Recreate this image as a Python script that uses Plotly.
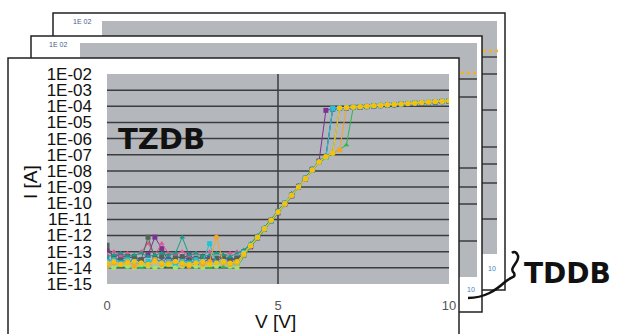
import plotly.graph_objects as go

# ---------------- data ----------------
V = [0.0, 0.2, 0.4, 0.6, 0.8, 1.0, 1.2, 1.4, 1.6, 1.8, 2.0, 2.2, 2.4, 2.6, 2.8, 3.0, 3.2, 3.4, 3.6, 3.8,
     4.0, 4.2, 4.4, 4.6, 4.8, 5.0, 5.2, 5.4, 5.6, 5.8, 6.0, 6.2, 6.4, 6.6, 6.8, 7.0, 7.2, 7.4, 7.6, 7.8,
     8.0, 8.2, 8.4, 8.6, 8.8, 9.0, 9.2, 9.4, 9.6, 9.8, 10.0]

# log10(I [A]) for each measured device
s_purple = [-12.9, -13.3, -13.2, -13.4, -13.3, -13.5, -13.2, -12.1, -12.8, -13.6, -13.3, -13.4, -13.2, -13.5, -13.3, -13.4, -13.6, -13.3, -13.5, -13.4,
            -13.2, -12.7, -12.15, -11.6, -11.1, -10.6, -10.05, -9.55, -9.0, -8.5, -7.95, -7.4, -4.25, -4.17, -4.12, -4.1, -4.07, -4.05, -4.02, -3.98,
            -3.96, -3.93, -3.9, -3.88, -3.85, -3.82, -3.8, -3.77, -3.74, -3.71, -3.68]
s_blue = [-13.5, -13.6, -13.4, -13.7, -13.5, -13.6, -13.8, -13.5, -13.6, -13.4, -13.7, -13.6, -13.5, -13.8, -13.6, -13.5, -13.7, -13.6, -13.4, -13.6,
          -13.1, -12.6, -12.1, -11.55, -11.05, -10.5, -10.0, -9.45, -8.95, -8.45, -7.9, -7.45, -7.1, -4.17, -4.13, -4.1, -4.06, -4.04, -4.01, -3.99,
          -3.95, -3.92, -3.9, -3.87, -3.84, -3.81, -3.79, -3.76, -3.73, -3.7, -3.67]
s_pink = [-13.2, -13.0, -13.3, -13.1, -13.3, -13.0, -12.5, -13.2, -12.5, -13.1, -13.2, -13.0, -13.3, -13.1, -13.2, -13.0, -13.4, -13.2, -13.1, -13.0,
          -12.95, -12.55, -12.05, -11.55, -11.0, -10.5, -10.0, -9.5, -8.95, -8.45, -7.95, -7.45, -7.15, -6.9, -4.12, -4.09, -4.07, -4.04, -4.01, -3.98,
          -3.95, -3.93, -3.9, -3.87, -3.84, -3.82, -3.79, -3.76, -3.73, -3.7, -3.67]
s_orange = [-13.9, -13.7, -13.8, -13.6, -13.9, -13.7, -13.8, -13.5, -13.8, -13.7, -13.6, -13.8, -13.9, -13.7, -13.8, -13.6, -12.1, -13.7, -13.8, -13.7,
            -13.2, -12.65, -12.1, -11.6, -11.05, -10.55, -10.05, -9.5, -9.0, -8.5, -7.95, -7.45, -7.1, -6.9, -6.7, -4.08, -4.06, -4.03, -4.0, -3.97,
            -3.95, -3.92, -3.89, -3.86, -3.83, -3.81, -3.78, -3.75, -3.72, -3.7, -3.66]
s_green = [-13.95, -14.0, -13.9, -14.0, -13.95, -14.0, -13.9, -14.0, -13.95, -13.9, -14.0, -13.95, -13.9, -14.0, -13.95, -14.0, -13.9, -13.95, -14.0, -13.95,
           -13.3, -12.7, -12.2, -11.65, -11.1, -10.6, -10.1, -9.55, -9.05, -8.5, -8.0, -7.5, -7.2, -6.95, -6.7, -6.4, -4.08, -4.05, -4.02, -3.99,
           -3.97, -3.94, -3.91, -3.88, -3.85, -3.83, -3.8, -3.77, -3.74, -3.71, -3.68]
s_cyan = [-13.6, -13.5, -13.7, -13.5, -13.6, -13.8, -13.6, -13.5, -13.7, -13.6, -13.8, -13.6, -13.7, -13.5, -13.6, -12.5, -13.7, -13.6, -13.8, -13.7,
          -13.05, -12.6, -12.1, -11.6, -11.1, -10.55, -10.0, -9.5, -9.0, -8.45, -7.95, -7.45, -7.15, -4.13, -4.11, -4.08, -4.05, -4.03, -4.0, -3.97,
          -3.94, -3.92, -3.89, -3.86, -3.83, -3.8, -3.78, -3.75, -3.72, -3.69, -3.66]
s_teal = [-13.3, -13.2, -13.1, -13.3, -13.2, -13.1, -13.3, -13.2, -13.1, -13.2, -13.1, -12.1, -13.2, -13.1, -13.3, -13.2, -13.1, -13.2, -13.3, -13.1,
          -12.9, -12.5, -12.0, -11.5, -11.0, -10.5, -9.95, -9.45, -8.95, -8.4, -7.9, -7.4, -7.1, -6.85, -4.11, -4.08, -4.06, -4.03, -4.0, -3.97,
          -3.94, -3.92, -3.89, -3.86, -3.83, -3.81, -3.78, -3.75, -3.72, -3.69, -3.66]
s_slate = [-12.6, -13.4, -13.5, -13.3, -13.4, -13.5, -12.1, -13.4, -13.3, -13.5, -13.4, -13.3, -13.5, -13.4, -13.3, -13.5, -13.4, -13.3, -13.5, -13.4,
           -13.0, -12.6, -12.1, -11.6, -11.05, -10.5, -10.0, -9.5, -8.95, -8.45, -7.9, -7.4, -7.1, -4.15, -4.12, -4.09, -4.06, -4.04, -4.01, -3.98,
           -3.95, -3.92, -3.9, -3.87, -3.84, -3.81, -3.79, -3.76, -3.73, -3.7, -3.67]
s_lime = [-13.9, -14.0, -13.8, -13.9, -14.0, -13.8, -13.9, -14.0, -13.9, -13.8, -14.0, -13.9, -13.8, -13.9, -14.0, -13.8, -13.9, -13.6, -13.9, -14.0,
          -13.1, -12.6, -12.1, -11.55, -11.05, -10.55, -10.0, -9.5, -9.0, -8.45, -7.95, -7.45, -7.15, -6.9, -4.1, -4.07, -4.05, -4.02, -3.99, -3.96,
          -3.94, -3.91, -3.88, -3.85, -3.82, -3.8, -3.77, -3.74, -3.71, -3.68, -3.65]
s_yellow = [-13.7, -13.6, -13.8, -13.7, -13.6, -13.7, -13.8, -13.6, -13.7, -13.8, -13.6, -13.7, -13.8, -13.7, -13.6, -13.8, -13.7, -13.6, -13.7, -13.6,
            -13.15, -12.65, -12.1, -11.6, -11.05, -10.55, -10.05, -9.5, -9.0, -8.5, -7.95, -7.45, -7.12, -6.88, -4.1, -4.07, -4.05, -4.02, -3.99, -3.96,
            -3.93, -3.91, -3.88, -3.85, -3.82, -3.79, -3.77, -3.74, -3.71, -3.68, -3.65]

series = [
    ("purple", s_purple, "#7b3294", "square"),
    ("blue", s_blue, "#4169e1", "diamond"),
    ("pink", s_pink, "#e0559a", "triangle-up"),
    ("slate", s_slate, "#4f6357", "square"),
    ("teal", s_teal, "#1a9b86", "triangle-up"),
    ("cyan", s_cyan, "#22c3d6", "square"),
    ("green", s_green, "#2db84d", "triangle-up"),
    ("lime", s_lime, "#a8e070", "circle"),
    ("orange", s_orange, "#f5a623", "circle"),
    ("yellow", s_yellow, "#f4c20d", "circle"),
]

y_exps = [-2, -3, -4, -5, -6, -7, -8, -9, -10, -11, -12, -13, -14, -15]
y_ticktext = ["1E-02", "1E-03", "1E-04", "1E-05", "1E-06", "1E-07", "1E-08", "1E-09",
              "1E-10", "1E-11", "1E-12", "1E-13", "1E-14", "1E-15"]
x_ticks = [0, 5, 10]
x_ticktext = ["0", "5", "10"]

# ---------------- layout helpers (pixel -> paper) ----------------
L, R, T, B = 107, 449, 74, 284
W, H = 617, 334


def PX(x):
    return (x - L) / (R - L)


def PY(y):
    return (B - y) / (B - T)


GRAY = "#b4b7bb"
GRID = "#3c3c3c"
SANS = "Liberation Sans, Arial, sans-serif"

fig = go.Figure()
for name, vals, color, sym in series:
    fig.add_trace(go.Scatter(
        x=V, y=[10 ** v for v in vals], mode="lines+markers", name=name,
        line=dict(color=color, width=1),
        marker=dict(color=color, size=5, symbol=sym, line=dict(width=0)),
    ))

shapes = []


def rect(x0, y0, x1, y1, fill, line_color=None, lw=0):
    shapes.append(dict(type="rect", xref="paper", yref="paper", layer="below",
                       x0=PX(x0), x1=PX(x1), y0=PY(y1), y1=PY(y0), fillcolor=fill,
                       line=dict(color=line_color or fill, width=lw)))


def hline(x0, x1, y, color=GRID, w=1.5, dash="solid"):
    shapes.append(dict(type="line", xref="paper", yref="paper", layer="below",
                       x0=PX(x0), x1=PX(x1), y0=PY(y), y1=PY(y),
                       line=dict(color=color, width=w, dash=dash)))


# back card
rect(53, 13, 505, 290, "white", "#222222", 1.5)
rect(102, 21, 497, 254, GRAY)
for yy in [57, 74, 110, 147, 164, 183, 219]:
    hline(102, 497, yy)
hline(483, 500, 51, "#f0b030", 2.5, "dot")
# middle card
rect(31, 36, 482, 312, "white", "#222222", 1.5)
rect(80, 43, 477, 277, GRAY)
for yy in [79, 97, 168, 187, 204, 241]:
    hline(80, 477, yy)
hline(461, 477, 73, "#f0b030", 2.5, "dot")
# front card
rect(8, 58, 459, 345, "white", "#222222", 1.5)
rect(L, T, R, B, GRAY)
# front grid
for e in y_exps[1:-1]:
    shapes.append(dict(type="line", xref="paper", yref="y", layer="below",
                       x0=0, x1=1, y0=10 ** e, y1=10 ** e, line=dict(color=GRID, width=1.5)))
shapes.append(dict(type="line", xref="x", yref="paper", layer="below",
                   x0=x_ticks[1], x1=x_ticks[1], y0=0, y1=1, line=dict(color=GRID, width=1.5)))

# TDDB curly bracket
pts = [(468, 298), (485, 298), (496, 290), (505, 282), (512, 276), (516, 278), (514, 273),
       (508, 268), (520, 262), (518, 256), (517, 252), (514, 251), (512, 253)]
p = "M {} {}".format(PX(pts[0][0]), PY(pts[0][1]))
for i in range(1, len(pts), 3):
    seg = pts[i:i + 3]
    p += " C " + ", ".join("{} {}".format(PX(a), PY(b)) for a, b in seg)
shapes.append(dict(type="path", xref="paper", yref="paper", path=p,
                   line=dict(color="#111111", width=2.5)))

annotations = []


def text(x, y, s, size, color="#111111", family=SANS, angle=0, bold=False):
    annotations.append(dict(x=PX(x), y=PY(y), xref="paper", yref="paper", text=("<b>%s</b>" % s) if bold else s,
                            showarrow=False, xanchor="center", yanchor="middle", textangle=angle,
                            font=dict(size=size, color=color, family=family)))


text(82, 21, "1E 02", 7, "#4a5a8a")
text(58, 44, "1E 02", 7, "#4a5a8a")
text(492, 268, "10", 7, "#3a80c0")
text(471, 289, "10", 7, "#3a80c0")
text(30, 182, "I [A]", 19, angle=-90)
text(275, 321, "V [V]", 19)
text(161, 139, "TZDB", 29, family="DejaVu Sans, sans-serif", bold=True)
text(567, 273, "TDDB", 28, family="DejaVu Sans, sans-serif", bold=True)

fig.update_layout(
    width=W, height=H,
    margin=dict(l=L, r=W - R, t=T, b=H - B, pad=0),
    paper_bgcolor="white", plot_bgcolor="rgba(0,0,0,0)",
    showlegend=False,
    shapes=shapes, annotations=annotations,
    xaxis=dict(range=[0, 10], tickvals=x_ticks, ticktext=x_ticktext, showgrid=False, zeroline=False,
               showline=False, ticks="", ticklabelstandoff=12,
               tickfont=dict(size=13, color="#555555", family=SANS)),
    yaxis=dict(type="log", range=[-15, -2], tickvals=[10 ** e for e in y_exps], ticktext=y_ticktext,
               showgrid=False, zeroline=False, showline=False, ticks="", ticklabelstandoff=14,
               tickfont=dict(size=17, color="#111111", family=SANS)),
)

fig.write_html("out.html", config={"displayModeBar": False},
               post_script="document.body.style.margin='0';document.body.style.overflow='hidden';")
